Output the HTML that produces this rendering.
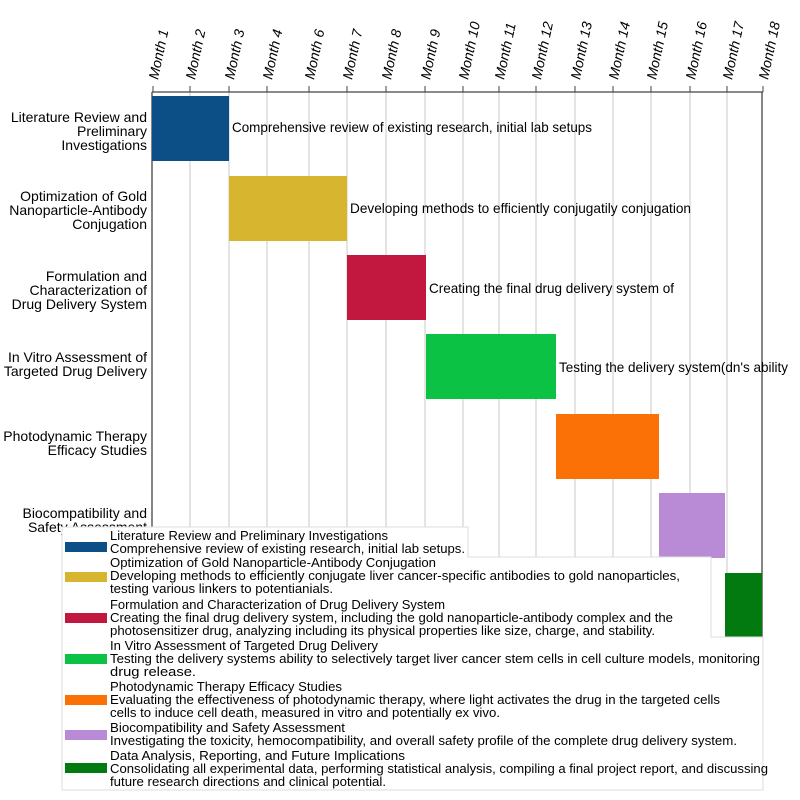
<!DOCTYPE html>
<html><head><meta charset="utf-8"><style>body{margin:0;background:#fff}svg{display:block}</style></head><body>
<svg width="800" height="800" viewBox="0 0 800 800" xmlns="http://www.w3.org/2000/svg" font-family="Liberation Sans, sans-serif">
<rect width="800" height="800" fill="#fff"/>
<g stroke="#c8c8c8" stroke-width="1">
<line x1="190" y1="92" x2="190" y2="640"/><line x1="229" y1="92" x2="229" y2="640"/><line x1="267" y1="92" x2="267" y2="640"/><line x1="309" y1="92" x2="309" y2="640"/><line x1="347" y1="92" x2="347" y2="640"/><line x1="386" y1="92" x2="386" y2="640"/><line x1="425" y1="92" x2="425" y2="640"/><line x1="463" y1="92" x2="463" y2="640"/><line x1="499" y1="92" x2="499" y2="640"/><line x1="536" y1="92" x2="536" y2="640"/><line x1="575" y1="92" x2="575" y2="640"/><line x1="613" y1="92" x2="613" y2="640"/><line x1="651" y1="92" x2="651" y2="640"/><line x1="690" y1="92" x2="690" y2="640"/><line x1="727" y1="92" x2="727" y2="640"/>
</g>
<g stroke="#444" stroke-width="1.3">
<line x1="152" y1="92" x2="763" y2="92"/><line x1="152" y1="92" x2="152" y2="640"/><line x1="762" y1="92" x2="762" y2="640"/>
</g>
<g stroke="#444" stroke-width="1">
<line x1="153" y1="86" x2="153" y2="92"/><line x1="190" y1="86" x2="190" y2="92"/><line x1="229" y1="86" x2="229" y2="92"/><line x1="267" y1="86" x2="267" y2="92"/><line x1="309" y1="86" x2="309" y2="92"/><line x1="347" y1="86" x2="347" y2="92"/><line x1="386" y1="86" x2="386" y2="92"/><line x1="425" y1="86" x2="425" y2="92"/><line x1="463" y1="86" x2="463" y2="92"/><line x1="499" y1="86" x2="499" y2="92"/><line x1="536" y1="86" x2="536" y2="92"/><line x1="575" y1="86" x2="575" y2="92"/><line x1="613" y1="86" x2="613" y2="92"/><line x1="651" y1="86" x2="651" y2="92"/><line x1="690" y1="86" x2="690" y2="92"/><line x1="727" y1="86" x2="727" y2="92"/><line x1="763" y1="86" x2="763" y2="92"/>
</g>
<g font-size="14" font-style="italic" fill="#000">
<text transform="translate(158,80) rotate(-78)">Month 1</text>
<text transform="translate(195,80) rotate(-78)">Month 2</text>
<text transform="translate(234,80) rotate(-78)">Month 3</text>
<text transform="translate(272,80) rotate(-78)">Month 4</text>
<text transform="translate(314,80) rotate(-78)">Month 6</text>
<text transform="translate(352,80) rotate(-78)">Month 7</text>
<text transform="translate(391,80) rotate(-78)">Month 8</text>
<text transform="translate(430,80) rotate(-78)">Month 9</text>
<text transform="translate(468,80) rotate(-78)">Month 10</text>
<text transform="translate(504,80) rotate(-78)">Month 11</text>
<text transform="translate(541,80) rotate(-78)">Month 12</text>
<text transform="translate(580,80) rotate(-78)">Month 13</text>
<text transform="translate(618,80) rotate(-78)">Month 14</text>
<text transform="translate(656,80) rotate(-78)">Month 15</text>
<text transform="translate(695,80) rotate(-78)">Month 16</text>
<text transform="translate(732,80) rotate(-78)">Month 17</text>
<text transform="translate(768,80) rotate(-78)">Month 18</text>
</g>
<rect x="152" y="96" width="77" height="65" fill="#0b4f86"/>
<rect x="229" y="176" width="118" height="65" fill="#d8b52f"/>
<rect x="347" y="255" width="79" height="65" fill="#c2173f"/>
<rect x="426" y="334" width="130" height="65" fill="#0cc244"/>
<rect x="556" y="414" width="103" height="65" fill="#fb7106"/>
<rect x="659" y="493" width="66" height="65" fill="#b98bd6"/>
<rect x="725" y="573" width="37" height="64" fill="#037a10"/>
<g font-size="14" fill="#000">
<text x="232" y="132" textLength="360" lengthAdjust="spacingAndGlyphs">Comprehensive review of existing research, initial lab setups</text>
<text x="350" y="213" textLength="341" lengthAdjust="spacingAndGlyphs">Developing methods to efficiently conjugatily conjugation</text>
<text x="429" y="293" textLength="245" lengthAdjust="spacingAndGlyphs">Creating the final drug delivery system of</text>
<text x="559" y="372" textLength="229" lengthAdjust="spacingAndGlyphs">Testing the delivery system(dn's ability</text>
</g>
<g font-size="14" fill="#000" text-anchor="end">
<text x="147" y="122">Literature Review and</text><text x="147" y="136">Preliminary</text><text x="147" y="150">Investigations</text>
<text x="147" y="201">Optimization of Gold</text><text x="147" y="215">Nanoparticle-Antibody</text><text x="147" y="229">Conjugation</text>
<text x="147" y="281">Formulation and</text><text x="147" y="295">Characterization of</text><text x="147" y="309">Drug Delivery System</text>
<text x="147" y="362">In Vitro Assessment of</text><text x="147" y="376">Targeted Drug Delivery</text>
<text x="147" y="441">Photodynamic Therapy</text><text x="147" y="455">Efficacy Studies</text>
<text x="147" y="518">Biocompatibility and</text><text x="147" y="532">Safety Assessment</text>
</g>
<path d="M62,527 H468 V557 H711 V637 H763 V790 H62 Z" fill="#fff" stroke="#ddd" stroke-width="1"/>
<rect x="65" y="542" width="42" height="10" fill="#0b4f86"/>
<rect x="65" y="572" width="42" height="10" fill="#d8b52f"/>
<rect x="65" y="613" width="42" height="10" fill="#c2173f"/>
<rect x="65" y="654" width="42" height="10" fill="#0cc244"/>
<rect x="65" y="695" width="42" height="10" fill="#fb7106"/>
<rect x="65" y="730" width="42" height="10" fill="#b98bd6"/>
<rect x="65" y="763" width="42" height="10" fill="#037a10"/>
<g font-size="13" fill="#000">
<text x="110" y="540" textLength="278" lengthAdjust="spacingAndGlyphs">Literature Review and Preliminary Investigations</text>
<text x="110" y="553" textLength="355" lengthAdjust="spacingAndGlyphs">Comprehensive review of existing research, initial lab setups.</text>
<text x="110" y="567" textLength="326" lengthAdjust="spacingAndGlyphs">Optimization of Gold Nanoparticle-Antibody Conjugation</text>
<text x="110" y="580" textLength="570" lengthAdjust="spacingAndGlyphs">Developing methods to efficiently conjugate liver cancer-specific antibodies to gold nanoparticles,</text>
<text x="110" y="593" textLength="223" lengthAdjust="spacingAndGlyphs">testing various linkers to potentianials.</text>
<text x="110" y="609" textLength="335" lengthAdjust="spacingAndGlyphs">Formulation and Characterization of Drug Delivery System</text>
<text x="110" y="622" textLength="563" lengthAdjust="spacingAndGlyphs">Creating the final drug delivery system, including the gold nanoparticle-antibody complex and the</text>
<text x="110" y="635" textLength="545" lengthAdjust="spacingAndGlyphs">photosensitizer drug, analyzing including its physical properties like size, charge, and stability.</text>
<text x="110" y="650" textLength="268" lengthAdjust="spacingAndGlyphs">In Vitro Assessment of Targeted Drug Delivery</text>
<text x="110" y="663" textLength="650" lengthAdjust="spacingAndGlyphs">Testing the delivery systems ability to selectively target liver cancer stem cells in cell culture models, monitoring</text>
<text x="110" y="676" textLength="86" lengthAdjust="spacingAndGlyphs">drug release.</text>
<text x="110" y="691" textLength="232" lengthAdjust="spacingAndGlyphs">Photodynamic Therapy Efficacy Studies</text>
<text x="110" y="704" textLength="610" lengthAdjust="spacingAndGlyphs">Evaluating the effectiveness of photodynamic therapy, where light activates the drug in the targeted cells</text>
<text x="110" y="717" textLength="390" lengthAdjust="spacingAndGlyphs">cells to induce cell death, measured in vitro and potentially ex vivo.</text>
<text x="110" y="732" textLength="235" lengthAdjust="spacingAndGlyphs">Biocompatibility and Safety Assessment</text>
<text x="110" y="745" textLength="627" lengthAdjust="spacingAndGlyphs">Investigating the toxicity, hemocompatibility, and overall safety profile of the complete drug delivery system.</text>
<text x="110" y="760" textLength="295" lengthAdjust="spacingAndGlyphs">Data Analysis, Reporting, and Future Implications</text>
<text x="110" y="773" textLength="658" lengthAdjust="spacingAndGlyphs">Consolidating all experimental data, performing statistical analysis, compiling a final project report, and discussing</text>
<text x="110" y="786" textLength="276" lengthAdjust="spacingAndGlyphs">future research directions and clinical potential.</text>
</g>
</svg>
</body></html>
